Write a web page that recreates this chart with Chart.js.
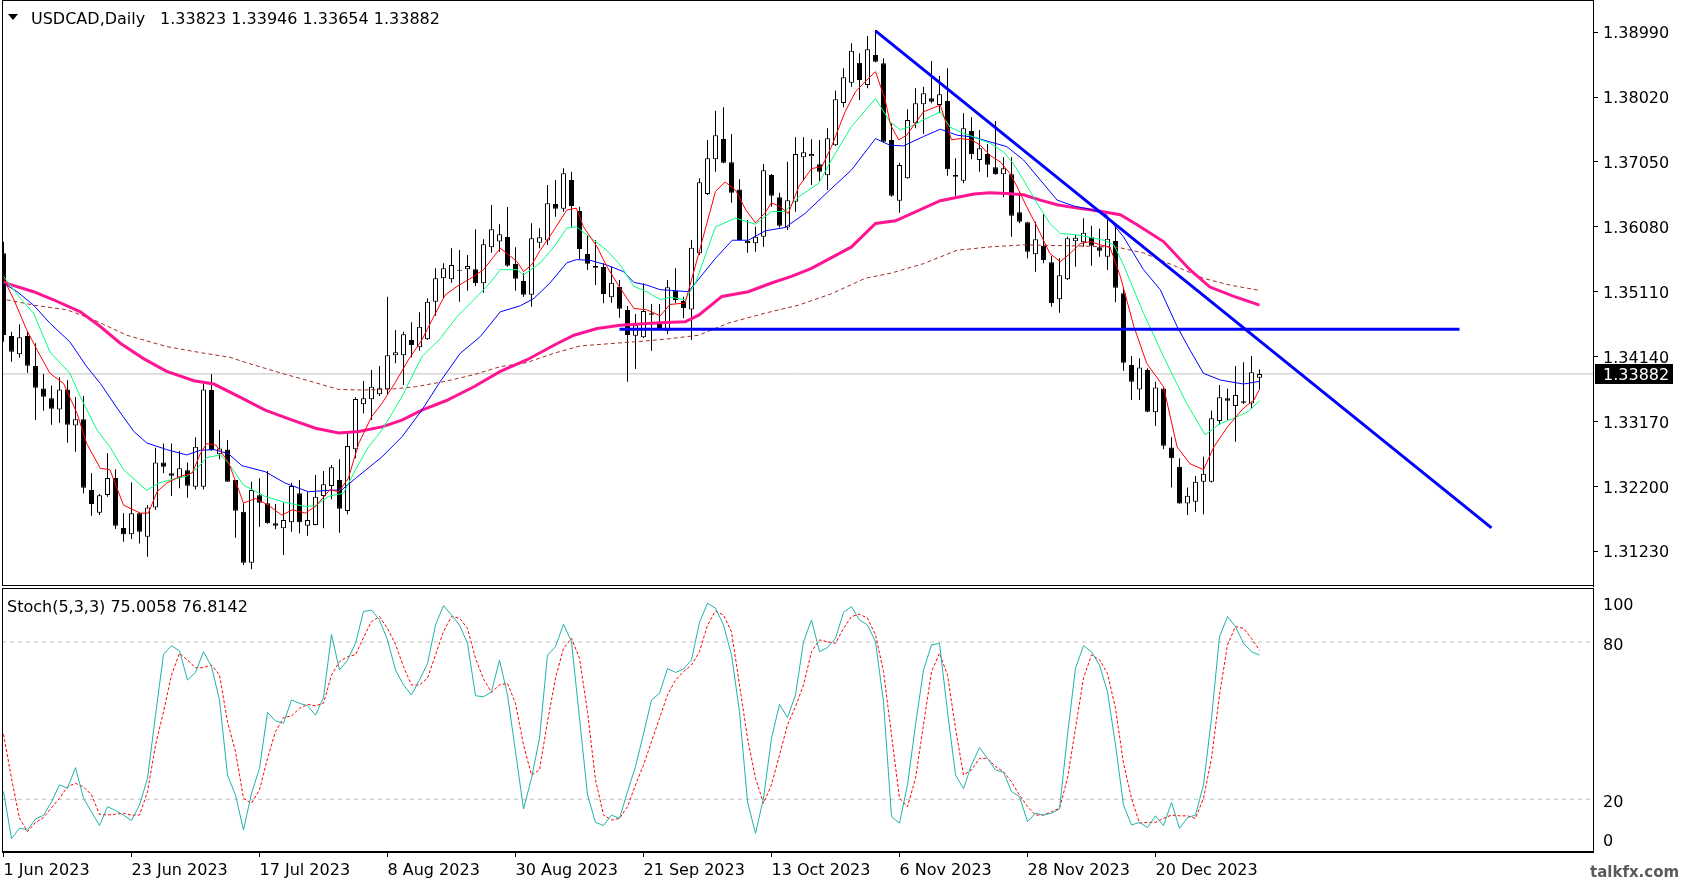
<!DOCTYPE html>
<html><head><meta charset="utf-8">
<script src="https://cdn.jsdelivr.net/npm/chart.js@4.4.0/dist/chart.umd.min.js"></script>
<style>
html,body{margin:0;padding:0;background:#fff;overflow:hidden}
#wrap{position:relative;width:1685px;height:885px;background:#fff}
#c1{position:absolute;left:0;top:0}
#c2{position:absolute;left:0;top:587px}
</style></head><body>
<div id="wrap"><canvas id="c1" width="1685" height="587"></canvas><canvas id="c2" width="1685" height="298"></canvas></div>
<script>
// ---------- DATA ----------
const symbolTitle = 'USDCAD,Daily';
const lastQuote = '1.33823 1.33946 1.33654 1.33882';
const lastPrice = 1.33882;
const stochTitle = 'Stoch(5,3,3) 75.0058 76.8142';

const open = [1.35684,1.34448,1.34174,1.34448,1.33999,1.33665,1.33516,1.33351,1.33650,1.33112,
1.33202,1.32145,1.31807,1.32071,1.32325,1.31577,1.31483,1.31797,1.31448,1.31886,
1.32559,1.32395,1.32330,1.32440,1.32195,1.32195,1.33640,1.32679,1.32753,1.32296,
1.31822,1.31060,1.32066,1.31947,1.31648,1.31573,1.31663,1.32096,1.31613,1.31623,
1.32056,1.32206,1.32296,1.31832,1.32754,1.33427,1.33501,1.33576,1.33651,1.34159,
1.34159,1.34389,1.34279,1.34398,1.34962,1.35310,1.35295,1.35425,1.35445,1.35445,
1.35236,1.35774,1.35859,1.35928,1.35525,1.35271,1.35066,1.35844,1.35874,1.36422,
1.36352,1.36780,1.36317,1.35674,1.35495,1.35480,1.35026,1.35181,1.34837,1.34453,
1.34428,1.34787,1.34653,1.34528,1.35126,1.34971,1.34846,1.35684,1.36571,1.37089,
1.37393,1.37044,1.36640,1.35873,1.35833,1.35933,1.36855,1.36521,1.36072,1.36456,
1.37119,1.37134,1.37014,1.36850,1.37298,1.37931,1.38235,1.38534,1.38200,1.38649,
1.38524,1.37378,1.36471,1.36805,1.37627,1.37911,1.38001,1.37901,1.37961,1.36855,
1.36770,1.37513,1.37079,1.37169,1.36970,1.36865,1.36865,1.36297,1.36147,1.35669,
1.35798,1.35549,1.34996,1.35295,1.35863,1.35848,1.35923,1.35774,1.35634,1.35868,
1.35086,1.34014,1.33650,1.33940,1.33307,1.33665,1.32783,1.32494,1.31946,1.31971,
1.32270,1.32270,1.33177,1.33516,1.33401,1.33471,1.33441,1.33823];
const high = [1.35858,1.34513,1.34622,1.34513,1.34338,1.33880,1.33710,1.33830,1.33785,1.33536,
1.33551,1.32395,1.32086,1.32694,1.32455,1.31797,1.32260,1.31810,1.31921,1.32778,
1.32843,1.32843,1.32729,1.32559,1.32933,1.33730,1.33875,1.33042,1.32893,1.32296,
1.31947,1.32271,1.32320,1.32430,1.31937,1.31957,1.32256,1.32296,1.32111,1.32370,
1.32430,1.32520,1.32605,1.32993,1.33531,1.33776,1.33940,1.34000,1.35036,1.34538,
1.34513,1.34653,1.34802,1.35012,1.35460,1.35535,1.35759,1.35734,1.35659,1.36043,
1.35893,1.36407,1.36118,1.36377,1.35774,1.35385,1.36133,1.36058,1.36706,1.36780,
1.36955,1.36905,1.36382,1.35958,1.35884,1.35535,1.35485,1.35286,1.34897,1.34777,
1.35236,1.34927,1.34927,1.35286,1.35460,1.35036,1.35883,1.36805,1.37378,1.37817,
1.37866,1.37468,1.36790,1.36182,1.36082,1.37019,1.36870,1.36591,1.37054,1.37418,
1.37418,1.37388,1.37378,1.37553,1.38116,1.38449,1.38823,1.38674,1.38933,1.39022,
1.38599,1.37627,1.37039,1.37837,1.38150,1.38175,1.38559,1.38335,1.38449,1.37104,
1.37777,1.37717,1.37528,1.37318,1.37662,1.37119,1.37119,1.36606,1.36157,1.36157,
1.36267,1.35644,1.35609,1.35933,1.35958,1.36207,1.36097,1.36057,1.36182,1.36132,
1.35175,1.34149,1.34114,1.33965,1.33765,1.33670,1.32933,1.32619,1.32185,1.32355,
1.32644,1.33332,1.33715,1.33665,1.33999,1.34054,1.34149,1.33946];
const low = [1.34363,1.34064,1.34124,1.33900,1.33192,1.33332,1.33122,1.33152,1.32853,1.32719,
1.32096,1.31762,1.31772,1.32046,1.31562,1.31373,1.31413,1.31348,1.31149,1.31847,
1.32395,1.32056,1.32171,1.32031,1.32155,1.32155,1.32733,1.32604,1.32270,1.31433,
1.31025,1.30960,1.31598,1.31640,1.31558,1.31174,1.31523,1.31498,1.31463,1.31620,
1.31573,1.32007,1.31508,1.31782,1.32619,1.33292,1.33193,1.33551,1.33576,1.34040,
1.33716,1.34129,1.34229,1.34390,1.34752,1.35011,1.35246,1.34962,1.35126,1.35196,
1.35096,1.35694,1.35709,1.35485,1.35126,1.35036,1.34887,1.35759,1.35809,1.36232,
1.36307,1.36083,1.35600,1.35435,1.35211,1.34937,1.34947,1.34722,1.33766,1.33955,
1.34420,1.34229,1.34538,1.34478,1.34936,1.34712,1.34388,1.35659,1.36556,1.36905,
1.37030,1.36441,1.35875,1.35694,1.35709,1.35783,1.36381,1.36072,1.36033,1.36307,
1.36770,1.36705,1.36765,1.36631,1.37290,1.37866,1.38175,1.37976,1.38150,1.38540,
1.37350,1.36531,1.36292,1.36800,1.37552,1.37468,1.37926,1.37777,1.36845,1.36546,
1.36730,1.37089,1.36905,1.36820,1.36860,1.36521,1.35933,1.36132,1.35609,1.35410,
1.35534,1.34886,1.34797,1.35285,1.35485,1.35783,1.35499,1.35634,1.35435,1.34951,
1.33930,1.33491,1.33491,1.33310,1.33102,1.32754,1.32185,1.31940,1.31772,1.31822,
1.31782,1.32260,1.33118,1.33192,1.32868,1.33431,1.33357,1.33654];
const close = [1.34463,1.34214,1.34428,1.34004,1.33675,1.33541,1.33361,1.33650,1.33122,1.33202,
1.32180,1.31936,1.32066,1.32325,1.31612,1.31483,1.31797,1.31523,1.31886,1.32559,
1.32494,1.32360,1.32470,1.32210,1.32793,1.33650,1.32743,1.32765,1.32271,1.31837,
1.31060,1.32146,1.31957,1.31648,1.31613,1.31698,1.32206,1.31663,1.31698,1.32046,
1.32231,1.32485,1.31867,1.32804,1.33506,1.33516,1.33691,1.33666,1.34159,1.34204,
1.34473,1.34314,1.34588,1.34962,1.35310,1.35460,1.35510,1.35435,1.35495,1.35236,
1.35819,1.36043,1.35968,1.35500,1.35305,1.35066,1.35908,1.35923,1.36432,1.36352,
1.36880,1.36392,1.35749,1.35530,1.35470,1.35076,1.35246,1.34857,1.34463,1.34608,
1.34822,1.34767,1.34548,1.35176,1.34986,1.34862,1.35768,1.36745,1.37104,1.37448,
1.37039,1.36591,1.35883,1.35833,1.35933,1.36925,1.36546,1.36097,1.36476,1.37169,
1.37194,1.37169,1.36905,1.37403,1.37986,1.38315,1.38714,1.38275,1.38733,1.38549,
1.37353,1.36546,1.37004,1.37677,1.37926,1.38076,1.37951,1.38061,1.36940,1.36830,
1.37552,1.37164,1.37254,1.37009,1.36865,1.36955,1.36247,1.36157,1.35709,1.35893,
1.35584,1.34936,1.35355,1.35908,1.35918,1.35993,1.35798,1.35724,1.35903,1.35171,
1.34049,1.33765,1.33979,1.33317,1.33680,1.32808,1.32619,1.31946,1.32061,1.32270,
1.32390,1.33217,1.33531,1.33481,1.33566,1.33451,1.33905,1.33882];

// moving averages: [bar, price]
const maRed = [[0,1.3531],[1.3,1.3499],[2.9,1.3454],[4.2,1.3424],[5.8,1.3389],[7.5,1.3374],[9.2,1.3329],[10.4,1.3284],[12.1,1.3247],[13.3,1.3245],[15,1.3192],[17.1,1.3180],[18.1,1.3180],[19.2,1.3212],[20.4,1.3225],[22.1,1.3235],[23.6,1.3240],[24.6,1.3269],[25.4,1.3284],[26.5,1.3282],[28.1,1.3257],[30,1.3195],[31.5,1.3202],[33.1,1.3192],[34.8,1.3177],[36.1,1.3185],[37.7,1.3180],[39,1.3190],[40.8,1.3215],[41.9,1.3212],[43.1,1.3232],[44.4,1.3284],[46,1.3324],[47.3,1.3344],[48.9,1.3374],[50.6,1.3409],[52.3,1.3439],[54,1.3479],[55.2,1.3506],[56.7,1.3519],[58.8,1.3534],[60,1.3544],[62.1,1.3576],[64.2,1.3556],[65,1.3541],[66,1.3551],[67.1,1.3573],[68.8,1.3603],[70.4,1.3633],[71.6,1.3636],[72.5,1.3608],[74.2,1.3578],[75.4,1.3549],[77.1,1.3516],[78.8,1.3486],[80.4,1.3484],[82.1,1.3475],[83.3,1.3492],[85.2,1.3494],[86.9,1.3568],[89,1.3661],[90.2,1.3675],[91.5,1.3663],[92.8,1.3633],[94,1.3614],[95.2,1.3629],[96,1.3644],[97.1,1.3638],[98.1,1.3628],[99.4,1.3668],[101,1.3695],[102.3,1.3698],[103.5,1.3728],[105.2,1.3780],[106.5,1.3810],[107.7,1.3825],[109,1.3840],[110.2,1.3798],[110.9,1.3760],[111.9,1.3738],[112.9,1.3745],[115,1.3780],[117.1,1.3790],[118.5,1.3738],[119.6,1.3740],[121,1.3738],[122.1,1.3730],[123.3,1.3715],[124.6,1.3705],[125.8,1.3688],[126.7,1.3668],[127.9,1.3638],[129.2,1.3608],[130.8,1.3568],[132.1,1.3556],[133.3,1.3568],[134.6,1.3583],[135.9,1.3586],[137.1,1.3581],[138.3,1.3578],[139.6,1.3534],[141.3,1.3459],[142.9,1.3404],[145,1.3369],[146.7,1.3279],[148.3,1.3254],[150,1.3245],[151.3,1.3279],[153,1.3309],[155,1.3337],[156.3,1.3349],[157,1.3365]];
const maGreen = [[0,1.3534],[2.1,1.3501],[3.75,1.3479],[5.8,1.3421],[8.3,1.3389],[9.6,1.3354],[11.7,1.3304],[13.3,1.3279],[15,1.3245],[17.9,1.3214],[19.4,1.3225],[21.3,1.3231],[22.9,1.3235],[24.2,1.3247],[25.4,1.3263],[27.1,1.3267],[28.1,1.3255],[30,1.3222],[32.7,1.3205],[35.2,1.3196],[37.7,1.3190],[39,1.3191],[40.6,1.3205],[42.5,1.3210],[44,1.3245],[45.6,1.3279],[47.3,1.3304],[49.8,1.3354],[52.3,1.3414],[54.6,1.3441],[56.7,1.3474],[58.8,1.3499],[60.8,1.3524],[62.1,1.3544],[64.2,1.3544],[65,1.3536],[67.1,1.3554],[68.8,1.3578],[70.4,1.3606],[71.6,1.3608],[73.8,1.3588],[75.4,1.3573],[77.1,1.3551],[78.8,1.3519],[80.4,1.3511],[82.1,1.3499],[83.3,1.3503],[85.2,1.3499],[86.5,1.3524],[89,1.3608],[91.5,1.3621],[94,1.3612],[96,1.3631],[97.7,1.3631],[99.4,1.3653],[101.9,1.3673],[103.5,1.3708],[106,1.3758],[109,1.3800],[110.8,1.3765],[112.1,1.3753],[113.8,1.3760],[115,1.3768],[117.1,1.3780],[118.3,1.3757],[119.6,1.3750],[121.3,1.3742],[123.3,1.3733],[125,1.3720],[126.2,1.3703],[127.5,1.3678],[129.2,1.3643],[130.8,1.3613],[132.1,1.3598],[134.2,1.3596],[135.9,1.3592],[137.5,1.3588],[138.8,1.3581],[140,1.3551],[142.5,1.3479],[145,1.3414],[147.9,1.3344],[150.2,1.3297],[152.1,1.3314],[154.2,1.3324],[155.6,1.3332],[157,1.3348]];
const maBlue = [[0,1.3524],[1.7,1.3511],[3.75,1.3491],[5.8,1.3464],[8.3,1.3436],[10.4,1.3399],[12.1,1.3374],[14.2,1.3337],[16.3,1.3302],[17.9,1.3285],[20.4,1.3275],[22.9,1.3267],[24.6,1.3274],[26.3,1.3275],[28.1,1.3269],[29.8,1.3251],[32.7,1.3242],[35.2,1.3225],[38.1,1.3212],[40.6,1.3214],[42.3,1.3215],[44,1.3232],[47.3,1.3264],[49.8,1.3294],[52.3,1.3334],[54.6,1.3377],[57.1,1.3419],[59.6,1.3444],[62.1,1.3481],[64.6,1.3490],[66.3,1.3501],[68.3,1.3524],[70.4,1.3554],[71.6,1.3559],[73.3,1.3558],[75.4,1.3551],[77.5,1.3541],[78.8,1.3525],[80.4,1.3521],[82.1,1.3514],[83.5,1.3513],[85.6,1.3511],[86.5,1.3524],[89,1.3561],[91.1,1.3588],[93.1,1.3588],[95.2,1.3602],[97.7,1.3607],[100.2,1.3628],[103.1,1.3661],[106,1.3693],[109,1.3740],[110.8,1.3730],[112.5,1.3729],[115,1.3743],[117.1,1.3754],[119.2,1.3745],[121.3,1.3742],[123.3,1.3735],[125.4,1.3728],[127.5,1.3708],[129.6,1.3678],[131.7,1.3648],[133.8,1.3639],[135.9,1.3634],[137.9,1.3626],[138.3,1.3618],[140,1.3593],[142.5,1.3544],[144.6,1.3514],[146.7,1.3459],[148.3,1.3424],[150,1.3389],[152.1,1.3379],[155,1.3373],[157,1.3377]];
const maPink = [[0,1.3525],[3.75,1.3511],[6.25,1.3499],[9.6,1.3481],[12.1,1.3459],[14.6,1.3434],[17.5,1.3411],[20.4,1.3392],[23.8,1.3378],[26.3,1.3373],[29.8,1.3352],[32.7,1.3334],[36.1,1.3319],[39,1.3307],[41.9,1.3300],[44.4,1.3302],[47.3,1.3309],[49.8,1.3319],[52.3,1.3334],[55.3,1.3348],[58.8,1.3369],[62.1,1.3392],[65.4,1.3409],[68.8,1.3431],[71.3,1.3446],[74.2,1.3456],[77.1,1.3461],[80,1.3463],[82.7,1.3465],[85.2,1.3466],[86.9,1.3476],[89.8,1.3504],[93.1,1.3511],[96,1.3524],[98.5,1.3534],[101,1.3546],[103.5,1.3562],[106,1.3578],[109,1.3613],[111.5,1.3617],[117.1,1.3647],[121.3,1.3657],[123.3,1.3659],[125.4,1.3658],[127.5,1.3656],[129.6,1.3648],[131.7,1.3641],[134.2,1.3636],[136.7,1.3632],[139.6,1.3626],[141.7,1.3611],[145,1.3586],[148.3,1.3544],[150.8,1.3518],[153.8,1.3504],[157,1.3491]];
const maBrown = [[0.4,1.3499],[3.75,1.3491],[7.9,1.3484],[11.3,1.3469],[15.4,1.3446],[20.4,1.3429],[24.6,1.3420],[28.3,1.3413],[30.6,1.3404],[34.8,1.3389],[38.1,1.3378],[41.9,1.3365],[44.8,1.3364],[48.1,1.3365],[51.5,1.3369],[55.2,1.3377],[58.8,1.3387],[62.1,1.3399],[65.4,1.3405],[68.8,1.3419],[72.1,1.3430],[75.4,1.3433],[78.8,1.3436],[82.7,1.3440],[86.9,1.3446],[90.6,1.3464],[95.2,1.3479],[99.4,1.3491],[103.5,1.3508],[107.7,1.3531],[111,1.3539],[115,1.3553],[119.2,1.3573],[123.3,1.3578],[127.5,1.3581],[131.7,1.3580],[135.9,1.3579],[139.4,1.3577],[142.5,1.3569],[146.7,1.3548],[150,1.3531],[153.3,1.3521],[157,1.3513]];

// drawn objects: [bar, price]
const trendLine = [[109,1.3901],[186,1.3158]];
const supportLine = [[77,1.34548],[182,1.34548]];

const stochK = [23,5,9,8.3,12.5,13.9,19,25.5,24.2,32.1,20.4,15.2,10,17.2,15.7,14,11.9,17.8,28,52.1,
75.3,78.6,76.6,65.5,68.4,76.3,70.6,57.9,29.3,21.6,8.3,22.3,31.8,53.2,49.9,49,57.9,56.6,55.7,52.1,
58.8,82.9,69.3,73.1,79.5,91.6,92.2,88.4,80.8,69.3,63.6,59.8,65.5,71.8,86.5,93.9,90.3,86.5,79.5,59.5,
59.1,61,73.1,59.8,38.2,16.3,28,43.3,75,78.2,86.8,80.1,50.9,21.7,11.2,10,14,12.7,22.9,32.5,
45,57.9,60.4,69.9,68.4,69.7,73.2,87.5,94.8,92.9,86.5,75.1,53.4,19.1,7,20.4,43.3,56.2,51.2,59.8,
80.1,88.4,76.3,77.9,81.4,91.3,93.5,88.4,86.5,80.1,57.2,13.4,10.9,25.5,48.4,69.3,78.9,79.5,53.4,29.3,
24,33.2,39.7,35.6,31.2,30.3,23,21,11.5,14.7,14,14.7,16.3,44.6,70,78.6,76.3,71.2,61,40.7,
17.8,10.2,11.2,9.2,13.7,9.9,18.8,8.9,13,14,25.5,50.9,82,89.7,85.9,79.5,76.3,75.0];
const stochD = [44.8,28,12.8,7.7,11.2,13,16.8,20.4,24.8,26.1,24.8,21.7,14.3,14,14.3,14.7,14,14,22.9,40.7,
53.4,67.4,75.7,73.1,70.2,70.2,71.2,67.4,49.6,38.2,20.4,18.5,23.6,35.6,45.8,51.2,51.8,54.7,56.2,55.7,
56.6,67.4,72.5,74.4,75.1,81.7,87.8,89.7,85.2,79.1,70.6,63.6,63.6,66.2,75.1,84,89.7,89.1,85.2,73.8,
65.9,60.8,63.6,64.2,56.6,40.7,29.3,31.2,49.6,66.2,77.6,81.4,73.8,53.4,27.4,14,12.1,12.7,17.2,25.5,
33.1,42,50.9,59.8,65.5,68.7,71.2,76.3,86.5,91.8,90.3,83.9,63.6,43.3,28,18.5,25.5,36.9,48.4,55.4,
63.6,76.3,80.8,80.1,79.5,85.2,89.7,90.6,89.1,82.7,68.7,44.6,20.4,17.2,28,48.4,68.7,75.7,67.4,47.1,
29.3,31.2,35.6,35.6,32.5,30.5,26.7,21.6,17.2,14,14,15.3,16.6,28,47.1,66.2,75.1,73.2,68,54.7,
33.7,20.4,10.9,11.2,11.2,12.7,14,13.7,13.7,12.7,20.4,35.6,59.8,78.9,85.9,85.2,81.4,76.8];
const stochLevels = [20, 80];

const priceTicks = [1.31230,1.32200,1.33170,1.34140,1.35110,1.36080,1.37050,1.38020,1.38990];
const stochTicks = [0, 20, 80, 100];
const dateTickBars = [0,16,32,48,64,80,96,112,128,144];
const dateTickLabels = ['1 Jun 2023','23 Jun 2023','17 Jul 2023','8 Aug 2023','30 Aug 2023','21 Sep 2023','13 Oct 2023','6 Nov 2023','28 Nov 2023','20 Dec 2023'];

// ---------- VIEW ----------
const FONT = '"DejaVu Sans", Verdana, sans-serif';
Chart.defaults.font.family = FONT;
Chart.defaults.font.size = 16;
Chart.defaults.color = '#000';
const XMIN = -0.1875, XMAX = 198.6875;
const AXIS_W = 92;

const pts = arr => arr.map(([x, y]) => ({x, y}));
const lineDs = (data, color, width, dash, order) => ({type: 'line', data: pts(data), borderColor: color, borderWidth: width,
  borderDash: dash || [], pointRadius: 0, pointHoverRadius: 0, tension: 0, order: order, fill: false});

const wicks = open.map((o, i) => ({x: i, y: [low[i], high[i]]}));
const bodies = open.map((o, i) => ({x: i, y: [o, close[i]]}));
const bodyFill = open.map((o, i) => close[i] >= o ? '#ffffff' : '#000000');

const paneFrame = {
  id: 'paneFrame',
  afterDraw(chart) {
    const {ctx, chartArea: a} = chart;
    ctx.save();
    ctx.strokeStyle = '#000'; ctx.lineWidth = 1;
    ctx.beginPath();
    ctx.moveTo(a.left + 0.5, a.top); ctx.lineTo(a.left + 0.5, a.bottom);
    ctx.moveTo(a.left, a.top + 0.5); ctx.lineTo(a.right + 1, a.top + 0.5);
    ctx.moveTo(a.left, a.bottom - 0.5); ctx.lineTo(a.right + 1, a.bottom - 0.5);
    ctx.stroke();
    ctx.restore();
  }
};

const priceDecor = {
  id: 'priceDecor',
  afterDraw(chart) {
    const {ctx, chartArea: a} = chart;
    const ys = chart.scales.y;
    ctx.save();
    // header
    ctx.fillStyle = '#000';
    ctx.beginPath(); ctx.moveTo(8, 14); ctx.lineTo(18, 14); ctx.lineTo(13, 20); ctx.closePath(); ctx.fill();
    ctx.font = '16px ' + FONT; ctx.textBaseline = 'alphabetic'; ctx.textAlign = 'left';
    ctx.fillText(symbolTitle, 31, 24);
    ctx.fillText(lastQuote, 160, 24);
    // last price tag
    const py = Math.round(ys.getPixelForValue(lastPrice));
    ctx.fillStyle = '#000';
    ctx.fillRect(a.right + 2, py - 10, 78, 20);
    ctx.fillStyle = '#fff'; ctx.textBaseline = 'middle';
    ctx.fillText(lastPrice.toFixed(5), a.right + 10, py + 2);
    ctx.restore();
  }
};

new Chart(document.getElementById('c1'), {
  type: 'bar',
  data: {
    datasets: [
      lineDs([[XMIN, lastPrice], [XMAX, lastPrice]], '#c0c0c0', 1, null, 20),
      {type: 'bar', data: wicks, backgroundColor: '#000', borderWidth: 0, barThickness: 1, maxBarThickness: 1,
        grouped: false, order: 11, minBarLength: 1, inflateAmount: 0},
      {type: 'bar', data: bodies, backgroundColor: bodyFill, borderColor: '#000', borderWidth: 1, borderSkipped: false,
        barThickness: 5, maxBarThickness: 5, grouped: false, order: 10, minBarLength: 1, inflateAmount: 0},
      lineDs(maBrown, '#a52a2a', 1, [4, 3], 6),
      lineDs(maPink, '#ff1493', 3, null, 5),
      lineDs(maBlue, '#0000ff', 1, null, 4),
      lineDs(maGreen, '#00ff7f', 1, null, 3),
      lineDs(maRed, '#ff0000', 1, null, 2),
      lineDs(supportLine, '#0000ff', 3, null, 1),
      lineDs(trendLine, '#0000ff', 3, null, 0)
    ]
  },
  options: {
    responsive: false, animation: false, events: [],
    layout: {padding: {left: 2, top: 0, right: 0, bottom: 1}},
    plugins: {legend: {display: false}, tooltip: {enabled: false}},
    scales: {
      x: {type: 'linear', min: XMIN, max: XMAX, display: false, offset: false, grid: {offset: false}},
      y: {type: 'linear', position: 'right', min: 1.30711, max: 1.39471, beginAtZero: false,
        afterBuildTicks: s => { s.ticks = priceTicks.map(v => ({value: v})); },
        afterFit: s => { s.width = AXIS_W; s.paddingTop = 0; s.paddingBottom = 0; },
        ticks: {padding: 5, autoSkip: false, labelOffset: 2, callback: v => Number(v).toFixed(5), font: {size: 16}},
        grid: {display: true, drawOnChartArea: false, drawTicks: true, tickLength: 5, color: '#000'},
        border: {display: true, color: '#000', width: 1}}
    }
  },
  plugins: [paneFrame, priceDecor]
});

const stochDecor = {
  id: 'stochDecor',
  afterDraw(chart) {
    const {ctx, chartArea: a} = chart;
    const ys = chart.scales.y;
    ctx.save();
    ctx.fillStyle = '#000';
    ctx.font = '16px ' + FONT; ctx.textAlign = 'left'; ctx.textBaseline = 'alphabetic';
    ctx.fillText(stochTitle, 7, 25);
    // axis labels kept inside the pane, as the terminal does
    ctx.textBaseline = 'middle';
    stochTicks.forEach(v => {
      let y = ys.getPixelForValue(v);
      y = Math.min(Math.max(y, a.top + 14), a.bottom - 14);
      ctx.fillText(String(v), a.right + 10, y + 4);
    });
    // watermark
    ctx.fillStyle = '#5a5a5a';
    ctx.font = 'bold 15px ' + FONT;
    ctx.fillText('talkfx.com', 1590, 286);
    ctx.restore();
  }
};

new Chart(document.getElementById('c2'), {
  type: 'line',
  data: {
    datasets: [
      ...stochLevels.map(l => lineDs([[XMIN, l], [XMAX, l]], '#c0c0c0', 1, [4, 4], 5)),
      {data: stochD.map((v, i) => ({x: i, y: v})), borderColor: '#ff0000', borderWidth: 1, borderDash: [3, 2],
        pointRadius: 0, tension: 0, order: 2},
      {data: stochK.map((v, i) => ({x: i, y: v})), borderColor: '#20b2aa', borderWidth: 1,
        pointRadius: 0, tension: 0, order: 1}
    ]
  },
  options: {
    responsive: false, animation: false, events: [],
    layout: {padding: {left: 2, top: 1, right: 0, bottom: 0}},
    plugins: {legend: {display: false}, tooltip: {enabled: false}},
    scales: {
      x: {type: 'linear', position: 'bottom', min: XMIN, max: XMAX, offset: false,
        afterBuildTicks: s => { s.ticks = dateTickBars.map(v => ({value: v})); },
        afterFit: s => { s.height = 33; s.paddingLeft = 0; s.paddingRight = 0; },
        ticks: {align: 'start', maxRotation: 0, autoSkip: false, padding: 4, font: {size: 16},
          callback: v => dateTickLabels[dateTickBars.indexOf(v)] || ''},
        grid: {display: true, drawOnChartArea: false, drawTicks: true, tickLength: 5, color: '#000'},
        border: {display: true, color: '#000', width: 1}},
      y: {type: 'linear', position: 'right', min: -0.1, max: 100.6,
        afterBuildTicks: s => { s.ticks = stochTicks.map(v => ({value: v})); },
        afterFit: s => { s.width = AXIS_W; s.paddingTop = 0; s.paddingBottom = 0; },
        ticks: {display: false},
        grid: {display: false},
        border: {display: true, color: '#000', width: 1}}
    }
  },
  plugins: [paneFrame, stochDecor]
});
</script>
</body></html>
